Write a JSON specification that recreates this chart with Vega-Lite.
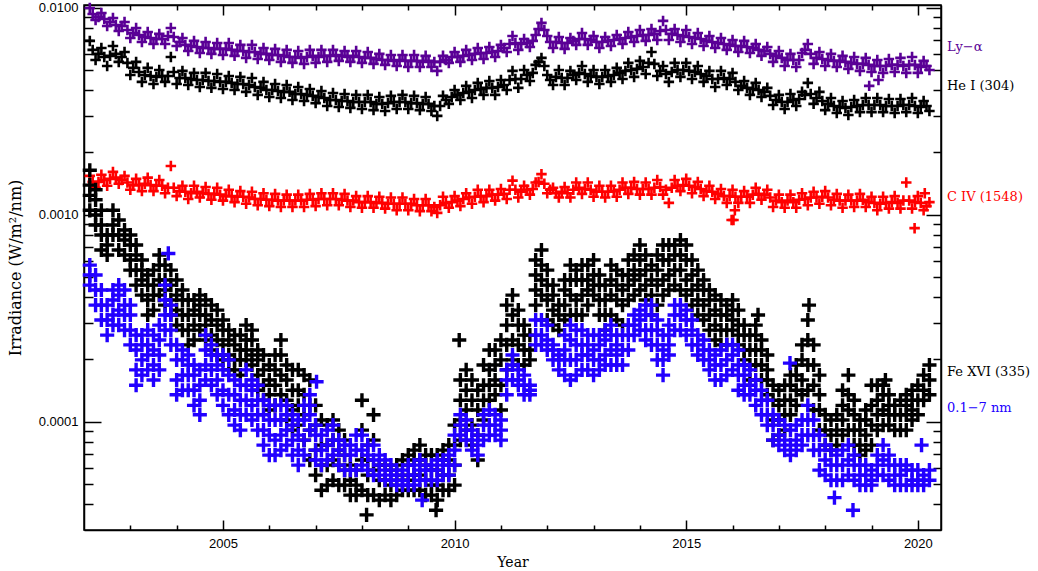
{
"$schema":"https://vega.github.io/schema/vega-lite/v6.json",
"width":857,"height":525,
"autosize":{"type":"none"},
"padding":{"left":84,"top":5,"right":97,"bottom":41},
"background":"white",
"config":{
"view":{"stroke":"#000","strokeWidth":1.5},
"axis":{"domainColor":"#000","domainWidth":1.5,"tickColor":"#000","tickWidth":1.5,"labelColor":"#000","labelFont":"Liberation Sans","labelFontSize":13,"titleFont":"DejaVu Serif","titleFontWeight":"normal","titleColor":"#000","grid":false,"labelOverlap":false,"labelFlush":false}
},
"datasets":{
"ly":[{"t":2002.125,"v":0.00997},{"t":2002.25,"v":0.00872},{"t":2002.375,"v":0.00943},{"t":2002.5,"v":0.00816},{"t":2002.625,"v":0.00892},{"t":2002.75,"v":0.00772},{"t":2002.875,"v":0.00853},{"t":2003,"v":0.00714},{"t":2003.125,"v":0.00798},{"t":2003.25,"v":0.00683},{"t":2003.375,"v":0.00763},{"t":2003.5,"v":0.00668},{"t":2003.625,"v":0.00747},{"t":2003.75,"v":0.00668},{"t":2003.875,"v":0.00798},{"t":2004,"v":0.00653},{"t":2004.125,"v":0.00714},{"t":2004.25,"v":0.00618},{"t":2004.375,"v":0.00691},{"t":2004.5,"v":0.00604},{"t":2004.625,"v":0.00683},{"t":2004.75,"v":0.00598},{"t":2004.875,"v":0.00675},{"t":2005,"v":0.00591},{"t":2005.125,"v":0.00675},{"t":2005.25,"v":0.00585},{"t":2005.375,"v":0.00661},{"t":2005.5,"v":0.00572},{"t":2005.625,"v":0.00661},{"t":2005.75,"v":0.00565},{"t":2005.875,"v":0.00639},{"t":2006,"v":0.00559},{"t":2006.125,"v":0.00632},{"t":2006.25,"v":0.00547},{"t":2006.375,"v":0.00625},{"t":2006.5,"v":0.00541},{"t":2006.625,"v":0.00618},{"t":2006.75,"v":0.00535},{"t":2006.875,"v":0.00625},{"t":2007,"v":0.00541},{"t":2007.125,"v":0.00625},{"t":2007.25,"v":0.00547},{"t":2007.375,"v":0.00625},{"t":2007.5,"v":0.00553},{"t":2007.625,"v":0.00618},{"t":2007.75,"v":0.00547},{"t":2007.875,"v":0.00618},{"t":2008,"v":0.00541},{"t":2008.125,"v":0.00611},{"t":2008.25,"v":0.00535},{"t":2008.375,"v":0.00598},{"t":2008.5,"v":0.00529},{"t":2008.625,"v":0.00591},{"t":2008.75,"v":0.00523},{"t":2008.875,"v":0.00591},{"t":2009,"v":0.00517},{"t":2009.125,"v":0.00591},{"t":2009.25,"v":0.00517},{"t":2009.375,"v":0.00585},{"t":2009.5,"v":0.00517},{"t":2009.625,"v":0.00495},{"t":2009.75,"v":0.00585},{"t":2009.875,"v":0.00541},{"t":2010,"v":0.00611},{"t":2010.125,"v":0.00547},{"t":2010.25,"v":0.00625},{"t":2010.375,"v":0.00559},{"t":2010.5,"v":0.00639},{"t":2010.625,"v":0.00565},{"t":2010.75,"v":0.00646},{"t":2010.875,"v":0.00578},{"t":2011,"v":0.00661},{"t":2011.125,"v":0.00611},{"t":2011.25,"v":0.0073},{"t":2011.375,"v":0.00625},{"t":2011.5,"v":0.00706},{"t":2011.625,"v":0.00646},{"t":2011.75,"v":0.00738},{"t":2011.875,"v":0.00844},{"t":2012,"v":0.0073},{"t":2012.125,"v":0.00639},{"t":2012.25,"v":0.00722},{"t":2012.375,"v":0.00632},{"t":2012.5,"v":0.00714},{"t":2012.625,"v":0.00661},{"t":2012.75,"v":0.00755},{"t":2012.875,"v":0.00661},{"t":2013,"v":0.0073},{"t":2013.125,"v":0.00639},{"t":2013.25,"v":0.00722},{"t":2013.375,"v":0.00653},{"t":2013.5,"v":0.00738},{"t":2013.625,"v":0.00668},{"t":2013.75,"v":0.00763},{"t":2013.875,"v":0.00683},{"t":2014,"v":0.0078},{"t":2014.125,"v":0.00691},{"t":2014.25,"v":0.00789},{"t":2014.375,"v":0.00698},{"t":2014.5,"v":0.00863},{"t":2014.625,"v":0.00698},{"t":2014.75,"v":0.00789},{"t":2014.875,"v":0.00683},{"t":2015,"v":0.0078},{"t":2015.125,"v":0.00668},{"t":2015.25,"v":0.00755},{"t":2015.375,"v":0.00653},{"t":2015.5,"v":0.0073},{"t":2015.625,"v":0.00639},{"t":2015.75,"v":0.00714},{"t":2015.875,"v":0.00625},{"t":2016,"v":0.00698},{"t":2016.125,"v":0.00611},{"t":2016.25,"v":0.00691},{"t":2016.375,"v":0.00604},{"t":2016.5,"v":0.00668},{"t":2016.625,"v":0.00585},{"t":2016.75,"v":0.00646},{"t":2016.875,"v":0.00547},{"t":2017,"v":0.00618},{"t":2017.125,"v":0.00523},{"t":2017.25,"v":0.00598},{"t":2017.375,"v":0.00517},{"t":2017.5,"v":0.00604},{"t":2017.625,"v":0.00668},{"t":2017.75,"v":0.00535},{"t":2017.875,"v":0.00611},{"t":2018,"v":0.00523},{"t":2018.125,"v":0.00598},{"t":2018.25,"v":0.00517},{"t":2018.375,"v":0.00585},{"t":2018.5,"v":0.00506},{"t":2018.625,"v":0.00578},{"t":2018.75,"v":0.00495},{"t":2018.875,"v":0.00572},{"t":2019,"v":0.00489},{"t":2019.125,"v":0.00559},{"t":2019.25,"v":0.00484},{"t":2019.375,"v":0.00565},{"t":2019.5,"v":0.00489},{"t":2019.625,"v":0.00572},{"t":2019.75,"v":0.00484},{"t":2019.875,"v":0.00578},{"t":2020,"v":0.00484},{"t":2020.125,"v":0.00553},{"t":2020.25,"v":0.005},{"t":2018.95,"v":0.00419},{"t":2019.15,"v":0.00447},
{"t":2002.1875,"v":0.00932},{"t":2002.3125,"v":0.00902},{"t":2002.4375,"v":0.00882},{"t":2002.5625,"v":0.00853},{"t":2002.6875,"v":0.00825},{"t":2002.8125,"v":0.00816},{"t":2002.9375,"v":0.0078},{"t":2003.0625,"v":0.00755},{"t":2003.1875,"v":0.00738},{"t":2003.3125,"v":0.00722},{"t":2003.4375,"v":0.00714},{"t":2003.5625,"v":0.00706},{"t":2003.6875,"v":0.00706},{"t":2003.8125,"v":0.0073},{"t":2003.9375,"v":0.00722},{"t":2004.0625,"v":0.00683},{"t":2004.1875,"v":0.00661},{"t":2004.3125,"v":0.00653},{"t":2004.4375,"v":0.00646},{"t":2004.5625,"v":0.00639},{"t":2004.6875,"v":0.00639},{"t":2004.8125,"v":0.00632},{"t":2004.9375,"v":0.00632},{"t":2005.0625,"v":0.00632},{"t":2005.1875,"v":0.00625},{"t":2005.3125,"v":0.00618},{"t":2005.4375,"v":0.00618},{"t":2005.5625,"v":0.00611},{"t":2005.6875,"v":0.00611},{"t":2005.8125,"v":0.00598},{"t":2005.9375,"v":0.00598},{"t":2006.0625,"v":0.00591},{"t":2006.1875,"v":0.00591},{"t":2006.3125,"v":0.00585},{"t":2006.4375,"v":0.00578},{"t":2006.5625,"v":0.00578},{"t":2006.6875,"v":0.00572},{"t":2006.8125,"v":0.00578},{"t":2006.9375,"v":0.00585},{"t":2007.0625,"v":0.00578},{"t":2007.1875,"v":0.00585},{"t":2007.3125,"v":0.00585},{"t":2007.4375,"v":0.00591},{"t":2007.5625,"v":0.00585},{"t":2007.6875,"v":0.00578},{"t":2007.8125,"v":0.00585},{"t":2007.9375,"v":0.00578},{"t":2008.0625,"v":0.00572},{"t":2008.1875,"v":0.00572},{"t":2008.3125,"v":0.00565},{"t":2008.4375,"v":0.00559},{"t":2008.5625,"v":0.00559},{"t":2008.6875,"v":0.00553},{"t":2008.8125,"v":0.00559},{"t":2008.9375,"v":0.00553},{"t":2009.0625,"v":0.00553},{"t":2009.1875,"v":0.00553},{"t":2009.3125,"v":0.00547},{"t":2009.4375,"v":0.00553},{"t":2009.5625,"v":0.00547},{"t":2009.6875,"v":0.00547},{"t":2009.8125,"v":0.00559},{"t":2009.9375,"v":0.00578},{"t":2010.0625,"v":0.00578},{"t":2010.1875,"v":0.00585},{"t":2010.3125,"v":0.00591},{"t":2010.4375,"v":0.00598},{"t":2010.5625,"v":0.00604},{"t":2010.6875,"v":0.00604},{"t":2010.8125,"v":0.00611},{"t":2010.9375,"v":0.00618},{"t":2011.0625,"v":0.00639},{"t":2011.1875,"v":0.00668},{"t":2011.3125,"v":0.00675},{"t":2011.4375,"v":0.00668},{"t":2011.5625,"v":0.00675},{"t":2011.6875,"v":0.00691},{"t":2011.8125,"v":0.00789},{"t":2011.9375,"v":0.0078},{"t":2012.0625,"v":0.00683},{"t":2012.1875,"v":0.00683},{"t":2012.3125,"v":0.00675},{"t":2012.4375,"v":0.00675},{"t":2012.5625,"v":0.00691},{"t":2012.6875,"v":0.00706},{"t":2012.8125,"v":0.00706},{"t":2012.9375,"v":0.00698},{"t":2013.0625,"v":0.00683},{"t":2013.1875,"v":0.00683},{"t":2013.3125,"v":0.00691},{"t":2013.4375,"v":0.00698},{"t":2013.5625,"v":0.00706},{"t":2013.6875,"v":0.00714},{"t":2013.8125,"v":0.00722},{"t":2013.9375,"v":0.0073},{"t":2014.0625,"v":0.00738},{"t":2014.1875,"v":0.00738},{"t":2014.3125,"v":0.00747},{"t":2014.4375,"v":0.00772},{"t":2014.5625,"v":0.0078},{"t":2014.6875,"v":0.00747},{"t":2014.8125,"v":0.00738},{"t":2014.9375,"v":0.0073},{"t":2015.0625,"v":0.00722},{"t":2015.1875,"v":0.00714},{"t":2015.3125,"v":0.00706},{"t":2015.4375,"v":0.00691},{"t":2015.5625,"v":0.00683},{"t":2015.6875,"v":0.00675},{"t":2015.8125,"v":0.00668},{"t":2015.9375,"v":0.00661},{"t":2016.0625,"v":0.00653},{"t":2016.1875,"v":0.00653},{"t":2016.3125,"v":0.00646},{"t":2016.4375,"v":0.00639},{"t":2016.5625,"v":0.00625},{"t":2016.6875,"v":0.00618},{"t":2016.8125,"v":0.00598},{"t":2016.9375,"v":0.00585},{"t":2017.0625,"v":0.00572},{"t":2017.1875,"v":0.00559},{"t":2017.3125,"v":0.00559},{"t":2017.4375,"v":0.00559},{"t":2017.5625,"v":0.00625},{"t":2017.6875,"v":0.00598},{"t":2017.8125,"v":0.00572},{"t":2017.9375,"v":0.00565},{"t":2018.0625,"v":0.00559},{"t":2018.1875,"v":0.00553},{"t":2018.3125,"v":0.00553},{"t":2018.4375,"v":0.00547},{"t":2018.5625,"v":0.00541},{"t":2018.6875,"v":0.00535},{"t":2018.8125,"v":0.00535},{"t":2018.9375,"v":0.00529},{"t":2019.0625,"v":0.00523},{"t":2019.1875,"v":0.00523},{"t":2019.3125,"v":0.00523},{"t":2019.4375,"v":0.00529},{"t":2019.5625,"v":0.00529},{"t":2019.6875,"v":0.00523},{"t":2019.8125,"v":0.00529},{"t":2019.9375,"v":0.00529},{"t":2020.0625,"v":0.00517},{"t":2020.1875,"v":0.00523}],
"he":[{"t":2002.125,"v":0.00691},{"t":2002.25,"v":0.00559},{"t":2002.375,"v":0.00639},{"t":2002.5,"v":0.00523},{"t":2002.625,"v":0.00653},{"t":2002.75,"v":0.00547},{"t":2002.875,"v":0.00611},{"t":2003,"v":0.00473},{"t":2003.125,"v":0.00547},{"t":2003.25,"v":0.00438},{"t":2003.375,"v":0.00512},{"t":2003.5,"v":0.00428},{"t":2003.625,"v":0.005},{"t":2003.75,"v":0.00438},{"t":2003.875,"v":0.00578},{"t":2004,"v":0.00428},{"t":2004.125,"v":0.00495},{"t":2004.25,"v":0.00423},{"t":2004.375,"v":0.00484},{"t":2004.5,"v":0.00414},{"t":2004.625,"v":0.00484},{"t":2004.75,"v":0.0041},{"t":2004.875,"v":0.00478},{"t":2005,"v":0.00405},{"t":2005.125,"v":0.00468},{"t":2005.25,"v":0.004},{"t":2005.375,"v":0.00463},{"t":2005.5,"v":0.00392},{"t":2005.625,"v":0.00457},{"t":2005.75,"v":0.00379},{"t":2005.875,"v":0.00438},{"t":2006,"v":0.0037},{"t":2006.125,"v":0.00428},{"t":2006.25,"v":0.00366},{"t":2006.375,"v":0.00423},{"t":2006.5,"v":0.00358},{"t":2006.625,"v":0.00414},{"t":2006.75,"v":0.00354},{"t":2006.875,"v":0.00405},{"t":2007,"v":0.00346},{"t":2007.125,"v":0.00396},{"t":2007.25,"v":0.00335},{"t":2007.375,"v":0.00387},{"t":2007.5,"v":0.00331},{"t":2007.625,"v":0.00383},{"t":2007.75,"v":0.00328},{"t":2007.875,"v":0.00379},{"t":2008,"v":0.00324},{"t":2008.125,"v":0.00379},{"t":2008.25,"v":0.0032},{"t":2008.375,"v":0.0037},{"t":2008.5,"v":0.00317},{"t":2008.625,"v":0.00375},{"t":2008.75,"v":0.00324},{"t":2008.875,"v":0.00379},{"t":2009,"v":0.00324},{"t":2009.125,"v":0.00375},{"t":2009.25,"v":0.0032},{"t":2009.375,"v":0.0037},{"t":2009.5,"v":0.00317},{"t":2009.625,"v":0.003},{"t":2009.75,"v":0.00375},{"t":2009.875,"v":0.00343},{"t":2010,"v":0.004},{"t":2010.125,"v":0.00358},{"t":2010.25,"v":0.00419},{"t":2010.375,"v":0.00366},{"t":2010.5,"v":0.00433},{"t":2010.625,"v":0.00379},{"t":2010.75,"v":0.00442},{"t":2010.875,"v":0.00379},{"t":2011,"v":0.00447},{"t":2011.125,"v":0.004},{"t":2011.25,"v":0.00495},{"t":2011.375,"v":0.0041},{"t":2011.5,"v":0.005},{"t":2011.625,"v":0.00442},{"t":2011.75,"v":0.00529},{"t":2011.875,"v":0.00572},{"t":2012,"v":0.00473},{"t":2012.125,"v":0.00423},{"t":2012.25,"v":0.005},{"t":2012.375,"v":0.00423},{"t":2012.5,"v":0.00495},{"t":2012.625,"v":0.00447},{"t":2012.75,"v":0.00523},{"t":2012.875,"v":0.00438},{"t":2013,"v":0.005},{"t":2013.125,"v":0.00428},{"t":2013.25,"v":0.005},{"t":2013.375,"v":0.00438},{"t":2013.5,"v":0.00512},{"t":2013.625,"v":0.00452},{"t":2013.75,"v":0.00541},{"t":2013.875,"v":0.00463},{"t":2014,"v":0.00553},{"t":2014.125,"v":0.00478},{"t":2014.25,"v":0.00611},{"t":2014.375,"v":0.00468},{"t":2014.5,"v":0.00523},{"t":2014.625,"v":0.00438},{"t":2014.75,"v":0.00541},{"t":2014.875,"v":0.00463},{"t":2015,"v":0.00541},{"t":2015.125,"v":0.00452},{"t":2015.25,"v":0.00523},{"t":2015.375,"v":0.00438},{"t":2015.5,"v":0.00495},{"t":2015.625,"v":0.00414},{"t":2015.75,"v":0.00495},{"t":2015.875,"v":0.00423},{"t":2016,"v":0.00484},{"t":2016.125,"v":0.004},{"t":2016.25,"v":0.00442},{"t":2016.375,"v":0.00379},{"t":2016.5,"v":0.00433},{"t":2016.625,"v":0.0037},{"t":2016.75,"v":0.0041},{"t":2016.875,"v":0.00339},{"t":2017,"v":0.00379},{"t":2017.125,"v":0.00324},{"t":2017.25,"v":0.00383},{"t":2017.375,"v":0.00335},{"t":2017.5,"v":0.00392},{"t":2017.625,"v":0.00433},{"t":2017.75,"v":0.00343},{"t":2017.875,"v":0.00392},{"t":2018,"v":0.0032},{"t":2018.125,"v":0.00366},{"t":2018.25,"v":0.0031},{"t":2018.375,"v":0.00354},{"t":2018.5,"v":0.00303},{"t":2018.625,"v":0.00358},{"t":2018.75,"v":0.00313},{"t":2018.875,"v":0.00366},{"t":2019,"v":0.00313},{"t":2019.125,"v":0.00366},{"t":2019.25,"v":0.00313},{"t":2019.375,"v":0.00362},{"t":2019.5,"v":0.0031},{"t":2019.625,"v":0.00362},{"t":2019.75,"v":0.00313},{"t":2019.875,"v":0.00366},{"t":2020,"v":0.0031},{"t":2020.125,"v":0.00354},{"t":2020.25,"v":0.00317},
{"t":2002.1875,"v":0.00625},{"t":2002.3125,"v":0.00598},{"t":2002.4375,"v":0.00578},{"t":2002.5625,"v":0.00585},{"t":2002.6875,"v":0.00598},{"t":2002.8125,"v":0.00578},{"t":2002.9375,"v":0.00541},{"t":2003.0625,"v":0.00512},{"t":2003.1875,"v":0.00489},{"t":2003.3125,"v":0.00473},{"t":2003.4375,"v":0.00468},{"t":2003.5625,"v":0.00463},{"t":2003.6875,"v":0.00468},{"t":2003.8125,"v":0.00468},{"t":2003.9375,"v":0.00489},{"t":2004.0625,"v":0.00457},{"t":2004.1875,"v":0.00457},{"t":2004.3125,"v":0.00452},{"t":2004.4375,"v":0.00447},{"t":2004.5625,"v":0.00447},{"t":2004.6875,"v":0.00442},{"t":2004.8125,"v":0.00442},{"t":2004.9375,"v":0.00438},{"t":2005.0625,"v":0.00438},{"t":2005.1875,"v":0.00433},{"t":2005.3125,"v":0.00428},{"t":2005.4375,"v":0.00428},{"t":2005.5625,"v":0.00423},{"t":2005.6875,"v":0.00414},{"t":2005.8125,"v":0.0041},{"t":2005.9375,"v":0.004},{"t":2006.0625,"v":0.004},{"t":2006.1875,"v":0.00396},{"t":2006.3125,"v":0.00392},{"t":2006.4375,"v":0.00392},{"t":2006.5625,"v":0.00383},{"t":2006.6875,"v":0.00383},{"t":2006.8125,"v":0.00379},{"t":2006.9375,"v":0.00375},{"t":2007.0625,"v":0.0037},{"t":2007.1875,"v":0.00366},{"t":2007.3125,"v":0.00358},{"t":2007.4375,"v":0.00358},{"t":2007.5625,"v":0.00354},{"t":2007.6875,"v":0.00354},{"t":2007.8125,"v":0.0035},{"t":2007.9375,"v":0.0035},{"t":2008.0625,"v":0.0035},{"t":2008.1875,"v":0.0035},{"t":2008.3125,"v":0.00343},{"t":2008.4375,"v":0.00343},{"t":2008.5625,"v":0.00346},{"t":2008.6875,"v":0.0035},{"t":2008.8125,"v":0.0035},{"t":2008.9375,"v":0.0035},{"t":2009.0625,"v":0.00346},{"t":2009.1875,"v":0.00346},{"t":2009.3125,"v":0.00343},{"t":2009.4375,"v":0.00343},{"t":2009.5625,"v":0.00335},{"t":2009.6875,"v":0.00335},{"t":2009.8125,"v":0.00358},{"t":2009.9375,"v":0.0037},{"t":2010.0625,"v":0.00379},{"t":2010.1875,"v":0.00387},{"t":2010.3125,"v":0.00392},{"t":2010.4375,"v":0.004},{"t":2010.5625,"v":0.00405},{"t":2010.6875,"v":0.0041},{"t":2010.8125,"v":0.0041},{"t":2010.9375,"v":0.00414},{"t":2011.0625,"v":0.00423},{"t":2011.1875,"v":0.00447},{"t":2011.3125,"v":0.00452},{"t":2011.4375,"v":0.00452},{"t":2011.5625,"v":0.00473},{"t":2011.6875,"v":0.00484},{"t":2011.8125,"v":0.00547},{"t":2011.9375,"v":0.00523},{"t":2012.0625,"v":0.00447},{"t":2012.1875,"v":0.00463},{"t":2012.3125,"v":0.00457},{"t":2012.4375,"v":0.00457},{"t":2012.5625,"v":0.00473},{"t":2012.6875,"v":0.00484},{"t":2012.8125,"v":0.00478},{"t":2012.9375,"v":0.00468},{"t":2013.0625,"v":0.00463},{"t":2013.1875,"v":0.00463},{"t":2013.3125,"v":0.00468},{"t":2013.4375,"v":0.00473},{"t":2013.5625,"v":0.00484},{"t":2013.6875,"v":0.00495},{"t":2013.8125,"v":0.005},{"t":2013.9375,"v":0.00506},{"t":2014.0625,"v":0.00517},{"t":2014.1875,"v":0.00541},{"t":2014.3125,"v":0.00535},{"t":2014.4375,"v":0.00495},{"t":2014.5625,"v":0.00478},{"t":2014.6875,"v":0.00489},{"t":2014.8125,"v":0.005},{"t":2014.9375,"v":0.005},{"t":2015.0625,"v":0.00495},{"t":2015.1875,"v":0.00489},{"t":2015.3125,"v":0.00478},{"t":2015.4375,"v":0.00468},{"t":2015.5625,"v":0.00452},{"t":2015.6875,"v":0.00452},{"t":2015.8125,"v":0.00457},{"t":2015.9375,"v":0.00452},{"t":2016.0625,"v":0.00438},{"t":2016.1875,"v":0.00419},{"t":2016.3125,"v":0.0041},{"t":2016.4375,"v":0.00405},{"t":2016.5625,"v":0.004},{"t":2016.6875,"v":0.00392},{"t":2016.8125,"v":0.00375},{"t":2016.9375,"v":0.00358},{"t":2017.0625,"v":0.0035},{"t":2017.1875,"v":0.0035},{"t":2017.3125,"v":0.00358},{"t":2017.4375,"v":0.00362},{"t":2017.5625,"v":0.00379},{"t":2017.6875,"v":0.00383},{"t":2017.8125,"v":0.00366},{"t":2017.9375,"v":0.00354},{"t":2018.0625,"v":0.00343},{"t":2018.1875,"v":0.00335},{"t":2018.3125,"v":0.00331},{"t":2018.4375,"v":0.00328},{"t":2018.5625,"v":0.00331},{"t":2018.6875,"v":0.00335},{"t":2018.8125,"v":0.00339},{"t":2018.9375,"v":0.00339},{"t":2019.0625,"v":0.00339},{"t":2019.1875,"v":0.00339},{"t":2019.3125,"v":0.00335},{"t":2019.4375,"v":0.00335},{"t":2019.5625,"v":0.00335},{"t":2019.6875,"v":0.00339},{"t":2019.8125,"v":0.00339},{"t":2019.9375,"v":0.00335},{"t":2020.0625,"v":0.00331},{"t":2020.1875,"v":0.00335}],
"c4":[{"t":2002.125,"v":0.00154},{"t":2002.25,"v":0.00135},{"t":2002.375,"v":0.00156},{"t":2002.5,"v":0.00138},{"t":2002.625,"v":0.00161},{"t":2002.75,"v":0.00141},{"t":2002.875,"v":0.00154},{"t":2003,"v":0.00132},{"t":2003.125,"v":0.00149},{"t":2003.25,"v":0.0013},{"t":2003.375,"v":0.00151},{"t":2003.5,"v":0.0013},{"t":2003.625,"v":0.00147},{"t":2003.75,"v":0.00127},{"t":2003.875,"v":0.00172},{"t":2004,"v":0.00123},{"t":2004.125,"v":0.00138},{"t":2004.25,"v":0.00119},{"t":2004.375,"v":0.00138},{"t":2004.5,"v":0.00121},{"t":2004.625,"v":0.00136},{"t":2004.75,"v":0.00118},{"t":2004.875,"v":0.00135},{"t":2005,"v":0.00117},{"t":2005.125,"v":0.00132},{"t":2005.25,"v":0.00115},{"t":2005.375,"v":0.0013},{"t":2005.5,"v":0.00113},{"t":2005.625,"v":0.00129},{"t":2005.75,"v":0.00111},{"t":2005.875,"v":0.00127},{"t":2006,"v":0.0011},{"t":2006.125,"v":0.00126},{"t":2006.25,"v":0.00109},{"t":2006.375,"v":0.00125},{"t":2006.5,"v":0.00109},{"t":2006.625,"v":0.00125},{"t":2006.75,"v":0.00109},{"t":2006.875,"v":0.00126},{"t":2007,"v":0.0011},{"t":2007.125,"v":0.00127},{"t":2007.25,"v":0.00111},{"t":2007.375,"v":0.00127},{"t":2007.5,"v":0.00111},{"t":2007.625,"v":0.00126},{"t":2007.75,"v":0.00109},{"t":2007.875,"v":0.00123},{"t":2008,"v":0.00108},{"t":2008.125,"v":0.00123},{"t":2008.25,"v":0.00108},{"t":2008.375,"v":0.00122},{"t":2008.5,"v":0.00107},{"t":2008.625,"v":0.00121},{"t":2008.75,"v":0.00105},{"t":2008.875,"v":0.00121},{"t":2009,"v":0.00105},{"t":2009.125,"v":0.00119},{"t":2009.25,"v":0.00104},{"t":2009.375,"v":0.00119},{"t":2009.5,"v":0.00104},{"t":2009.625,"v":0.00102},{"t":2009.75,"v":0.00122},{"t":2009.875,"v":0.00108},{"t":2010,"v":0.00123},{"t":2010.125,"v":0.0011},{"t":2010.25,"v":0.00127},{"t":2010.375,"v":0.00113},{"t":2010.5,"v":0.00132},{"t":2010.625,"v":0.00115},{"t":2010.75,"v":0.00132},{"t":2010.875,"v":0.00117},{"t":2011,"v":0.00133},{"t":2011.125,"v":0.00119},{"t":2011.25,"v":0.00146},{"t":2011.375,"v":0.00121},{"t":2011.5,"v":0.00138},{"t":2011.625,"v":0.00125},{"t":2011.75,"v":0.00143},{"t":2011.875,"v":0.00157},{"t":2012,"v":0.00127},{"t":2012.125,"v":0.00135},{"t":2012.25,"v":0.00121},{"t":2012.375,"v":0.00136},{"t":2012.5,"v":0.00121},{"t":2012.625,"v":0.00143},{"t":2012.75,"v":0.00126},{"t":2012.875,"v":0.00143},{"t":2013,"v":0.00122},{"t":2013.125,"v":0.00138},{"t":2013.25,"v":0.00121},{"t":2013.375,"v":0.00138},{"t":2013.5,"v":0.00122},{"t":2013.625,"v":0.00143},{"t":2013.75,"v":0.00126},{"t":2013.875,"v":0.00144},{"t":2014,"v":0.00125},{"t":2014.125,"v":0.00143},{"t":2014.25,"v":0.00125},{"t":2014.375,"v":0.00147},{"t":2014.5,"v":0.00125},{"t":2014.625,"v":0.00114},{"t":2014.75,"v":0.00147},{"t":2014.875,"v":0.0013},{"t":2015,"v":0.00149},{"t":2015.125,"v":0.00127},{"t":2015.25,"v":0.00144},{"t":2015.375,"v":0.00123},{"t":2015.5,"v":0.00138},{"t":2015.625,"v":0.00119},{"t":2015.75,"v":0.00133},{"t":2015.875,"v":0.00114},{"t":2016,"v":0.00132},{"t":2016.125,"v":0.00114},{"t":2016.25,"v":0.0013},{"t":2016.375,"v":0.00114},{"t":2016.5,"v":0.00135},{"t":2016.625,"v":0.00118},{"t":2016.75,"v":0.00132},{"t":2016.875,"v":0.00109},{"t":2017,"v":0.00125},{"t":2017.125,"v":0.00108},{"t":2017.25,"v":0.00125},{"t":2017.375,"v":0.00108},{"t":2017.5,"v":0.00127},{"t":2017.625,"v":0.00111},{"t":2017.75,"v":0.00129},{"t":2017.875,"v":0.00113},{"t":2018,"v":0.0013},{"t":2018.125,"v":0.00111},{"t":2018.25,"v":0.00126},{"t":2018.375,"v":0.00108},{"t":2018.5,"v":0.00125},{"t":2018.625,"v":0.00109},{"t":2018.75,"v":0.00126},{"t":2018.875,"v":0.00109},{"t":2019,"v":0.00122},{"t":2019.125,"v":0.00105},{"t":2019.25,"v":0.00122},{"t":2019.375,"v":0.00107},{"t":2019.5,"v":0.00123},{"t":2019.625,"v":0.00107},{"t":2019.75,"v":0.00143},{"t":2019.875,"v":0.00107},{"t":2020,"v":0.00123},{"t":2020.125,"v":0.00105},{"t":2020.25,"v":0.00115},{"t":2015.98,"v":0.000943},{"t":2016.02,"v":0.000943},{"t":2016.05,"v":0.00105},{"t":2019.93,"v":0.000861},{"t":2020.15,"v":0.00127},
{"t":2002.1875,"v":0.00144},{"t":2002.3125,"v":0.00144},{"t":2002.4375,"v":0.00147},{"t":2002.5625,"v":0.00149},{"t":2002.6875,"v":0.00151},{"t":2002.8125,"v":0.00147},{"t":2002.9375,"v":0.00143},{"t":2003.0625,"v":0.00139},{"t":2003.1875,"v":0.00139},{"t":2003.3125,"v":0.00141},{"t":2003.4375,"v":0.00139},{"t":2003.5625,"v":0.00138},{"t":2003.6875,"v":0.00138},{"t":2003.8125,"v":0.00135},{"t":2003.9375,"v":0.00135},{"t":2004.0625,"v":0.0013},{"t":2004.1875,"v":0.00129},{"t":2004.3125,"v":0.00127},{"t":2004.4375,"v":0.00129},{"t":2004.5625,"v":0.00127},{"t":2004.6875,"v":0.00126},{"t":2004.8125,"v":0.00126},{"t":2004.9375,"v":0.00125},{"t":2005.0625,"v":0.00123},{"t":2005.1875,"v":0.00123},{"t":2005.3125,"v":0.00122},{"t":2005.4375,"v":0.00122},{"t":2005.5625,"v":0.00121},{"t":2005.6875,"v":0.00119},{"t":2005.8125,"v":0.00119},{"t":2005.9375,"v":0.00118},{"t":2006.0625,"v":0.00118},{"t":2006.1875,"v":0.00117},{"t":2006.3125,"v":0.00117},{"t":2006.4375,"v":0.00117},{"t":2006.5625,"v":0.00117},{"t":2006.6875,"v":0.00117},{"t":2006.8125,"v":0.00118},{"t":2006.9375,"v":0.00118},{"t":2007.0625,"v":0.00119},{"t":2007.1875,"v":0.00119},{"t":2007.3125,"v":0.00119},{"t":2007.4375,"v":0.00119},{"t":2007.5625,"v":0.00118},{"t":2007.6875,"v":0.00117},{"t":2007.8125,"v":0.00117},{"t":2007.9375,"v":0.00115},{"t":2008.0625,"v":0.00115},{"t":2008.1875,"v":0.00115},{"t":2008.3125,"v":0.00114},{"t":2008.4375,"v":0.00114},{"t":2008.5625,"v":0.00113},{"t":2008.6875,"v":0.00113},{"t":2008.8125,"v":0.00113},{"t":2008.9375,"v":0.00113},{"t":2009.0625,"v":0.00113},{"t":2009.1875,"v":0.00111},{"t":2009.3125,"v":0.00111},{"t":2009.4375,"v":0.00111},{"t":2009.5625,"v":0.00109},{"t":2009.6875,"v":0.00111},{"t":2009.8125,"v":0.00114},{"t":2009.9375,"v":0.00115},{"t":2010.0625,"v":0.00117},{"t":2010.1875,"v":0.00119},{"t":2010.3125,"v":0.00121},{"t":2010.4375,"v":0.00122},{"t":2010.5625,"v":0.00123},{"t":2010.6875,"v":0.00123},{"t":2010.8125,"v":0.00125},{"t":2010.9375,"v":0.00125},{"t":2011.0625,"v":0.00126},{"t":2011.1875,"v":0.00132},{"t":2011.3125,"v":0.00132},{"t":2011.4375,"v":0.00129},{"t":2011.5625,"v":0.00132},{"t":2011.6875,"v":0.00133},{"t":2011.8125,"v":0.00144},{"t":2011.9375,"v":0.00141},{"t":2012.0625,"v":0.00132},{"t":2012.1875,"v":0.00127},{"t":2012.3125,"v":0.00129},{"t":2012.4375,"v":0.00127},{"t":2012.5625,"v":0.00132},{"t":2012.6875,"v":0.00135},{"t":2012.8125,"v":0.00133},{"t":2012.9375,"v":0.00132},{"t":2013.0625,"v":0.00129},{"t":2013.1875,"v":0.00129},{"t":2013.3125,"v":0.00129},{"t":2013.4375,"v":0.0013},{"t":2013.5625,"v":0.00132},{"t":2013.6875,"v":0.00135},{"t":2013.8125,"v":0.00135},{"t":2013.9375,"v":0.00133},{"t":2014.0625,"v":0.00133},{"t":2014.1875,"v":0.00133},{"t":2014.3125,"v":0.00135},{"t":2014.4375,"v":0.00136},{"t":2014.5625,"v":0.00132},{"t":2014.6875,"v":0.00135},{"t":2014.8125,"v":0.00138},{"t":2014.9375,"v":0.00139},{"t":2015.0625,"v":0.00138},{"t":2015.1875,"v":0.00136},{"t":2015.3125,"v":0.00133},{"t":2015.4375,"v":0.0013},{"t":2015.5625,"v":0.00129},{"t":2015.6875,"v":0.00126},{"t":2015.8125,"v":0.00123},{"t":2015.9375,"v":0.00123},{"t":2016.0625,"v":0.00122},{"t":2016.1875,"v":0.00122},{"t":2016.3125,"v":0.00122},{"t":2016.4375,"v":0.00125},{"t":2016.5625,"v":0.00126},{"t":2016.6875,"v":0.00125},{"t":2016.8125,"v":0.00121},{"t":2016.9375,"v":0.00117},{"t":2017.0625,"v":0.00115},{"t":2017.1875,"v":0.00117},{"t":2017.3125,"v":0.00115},{"t":2017.4375,"v":0.00118},{"t":2017.5625,"v":0.00119},{"t":2017.6875,"v":0.00121},{"t":2017.8125,"v":0.00121},{"t":2017.9375,"v":0.00122},{"t":2018.0625,"v":0.00121},{"t":2018.1875,"v":0.00118},{"t":2018.3125,"v":0.00117},{"t":2018.4375,"v":0.00117},{"t":2018.5625,"v":0.00117},{"t":2018.6875,"v":0.00117},{"t":2018.8125,"v":0.00118},{"t":2018.9375,"v":0.00115},{"t":2019.0625,"v":0.00114},{"t":2019.1875,"v":0.00113},{"t":2019.3125,"v":0.00114},{"t":2019.4375,"v":0.00115},{"t":2019.5625,"v":0.00114},{"t":2019.6875,"v":0.00117},{"t":2019.8125,"v":0.00117},{"t":2019.9375,"v":0.00115},{"t":2020.0625,"v":0.00114},{"t":2020.1875,"v":0.0011}],
"fe":[{"t":2002.125,"v":0.00164},{"t":2002.125,"v":0.00139},{"t":2002.125,"v":0.00124},{"t":2002.125,"v":0.00105},{"t":2002.25,"v":0.00132},{"t":2002.25,"v":0.00118},{"t":2002.25,"v":0.000997},{"t":2002.25,"v":0.000892},{"t":2002.375,"v":0.00105},{"t":2002.375,"v":0.000892},{"t":2002.375,"v":0.000798},{"t":2002.375,"v":0.000675},{"t":2002.5,"v":0.000798},{"t":2002.5,"v":0.000714},{"t":2002.5,"v":0.000639},{"t":2002.625,"v":0.00105},{"t":2002.625,"v":0.000892},{"t":2002.625,"v":0.000798},{"t":2002.75,"v":0.000943},{"t":2002.75,"v":0.000798},{"t":2002.75,"v":0.000675},{"t":2002.875,"v":0.000843},{"t":2002.875,"v":0.000755},{"t":2002.875,"v":0.000639},{"t":2003,"v":0.000798},{"t":2003,"v":0.000714},{"t":2003,"v":0.000604},{"t":2003,"v":0.00054},{"t":2003.125,"v":0.000714},{"t":2003.125,"v":0.000639},{"t":2003.125,"v":0.00054},{"t":2003.125,"v":0.000457},{"t":2003.25,"v":0.000604},{"t":2003.25,"v":0.00054},{"t":2003.25,"v":0.000484},{"t":2003.25,"v":0.000409},{"t":2003.375,"v":0.000511},{"t":2003.375,"v":0.000457},{"t":2003.375,"v":0.000387},{"t":2003.375,"v":0.000328},{"t":2003.5,"v":0.00054},{"t":2003.5,"v":0.000457},{"t":2003.5,"v":0.000409},{"t":2003.5,"v":0.000346},{"t":2003.625,"v":0.000639},{"t":2003.625,"v":0.000571},{"t":2003.625,"v":0.000484},{"t":2003.625,"v":0.000409},{"t":2003.75,"v":0.000571},{"t":2003.75,"v":0.000484},{"t":2003.75,"v":0.000433},{"t":2003.75,"v":0.000366},{"t":2003.875,"v":0.00054},{"t":2003.875,"v":0.000457},{"t":2003.875,"v":0.000387},{"t":2003.875,"v":0.000328},{"t":2004,"v":0.000484},{"t":2004,"v":0.000409},{"t":2004,"v":0.000346},{"t":2004,"v":0.000293},{"t":2004.125,"v":0.000433},{"t":2004.125,"v":0.000387},{"t":2004.125,"v":0.000328},{"t":2004.125,"v":0.000277},{"t":2004.25,"v":0.000387},{"t":2004.25,"v":0.000328},{"t":2004.25,"v":0.000277},{"t":2004.25,"v":0.000235},{"t":2004.375,"v":0.000387},{"t":2004.375,"v":0.000346},{"t":2004.375,"v":0.000293},{"t":2004.375,"v":0.000248},{"t":2004.5,"v":0.000409},{"t":2004.5,"v":0.000366},{"t":2004.5,"v":0.000328},{"t":2004.5,"v":0.000277},{"t":2004.625,"v":0.000387},{"t":2004.625,"v":0.000328},{"t":2004.625,"v":0.000293},{"t":2004.625,"v":0.000248},{"t":2004.75,"v":0.000366},{"t":2004.75,"v":0.00031},{"t":2004.75,"v":0.000262},{"t":2004.75,"v":0.000222},{"t":2004.875,"v":0.000346},{"t":2004.875,"v":0.000293},{"t":2004.875,"v":0.000248},{"t":2004.875,"v":0.00021},{"t":2005,"v":0.00031},{"t":2005,"v":0.000277},{"t":2005,"v":0.000235},{"t":2005,"v":0.000199},{"t":2005.125,"v":0.000277},{"t":2005.125,"v":0.000248},{"t":2005.125,"v":0.00021},{"t":2005.125,"v":0.000178},{"t":2005.25,"v":0.000262},{"t":2005.25,"v":0.000235},{"t":2005.25,"v":0.000199},{"t":2005.25,"v":0.000178},{"t":2005.375,"v":0.000262},{"t":2005.375,"v":0.000222},{"t":2005.375,"v":0.000199},{"t":2005.375,"v":0.000168},{"t":2005.5,"v":0.000293},{"t":2005.5,"v":0.000248},{"t":2005.5,"v":0.000222},{"t":2005.5,"v":0.000199},{"t":2005.625,"v":0.000277},{"t":2005.625,"v":0.000248},{"t":2005.625,"v":0.00021},{"t":2005.625,"v":0.000188},{"t":2005.75,"v":0.000222},{"t":2005.75,"v":0.000199},{"t":2005.75,"v":0.000168},{"t":2005.75,"v":0.000142},{"t":2005.875,"v":0.00021},{"t":2005.875,"v":0.000178},{"t":2005.875,"v":0.00015},{"t":2005.875,"v":0.000127},{"t":2006,"v":0.000188},{"t":2006,"v":0.000159},{"t":2006,"v":0.000135},{"t":2006,"v":0.000114},{"t":2006.125,"v":0.00021},{"t":2006.125,"v":0.000178},{"t":2006.125,"v":0.00015},{"t":2006.125,"v":0.00012},{"t":2006.25,"v":0.000248},{"t":2006.25,"v":0.00021},{"t":2006.25,"v":0.000168},{"t":2006.25,"v":0.000135},{"t":2006.375,"v":0.000188},{"t":2006.375,"v":0.000159},{"t":2006.375,"v":0.000127},{"t":2006.375,"v":0.000102},{"t":2006.5,"v":0.000178},{"t":2006.5,"v":0.000142},{"t":2006.5,"v":0.000114},{"t":2006.5,"v":0.0000911},{"t":2006.625,"v":0.000178},{"t":2006.625,"v":0.000142},{"t":2006.625,"v":0.00012},{"t":2006.625,"v":0.0000963},{"t":2006.75,"v":0.000168},{"t":2006.75,"v":0.000135},{"t":2006.75,"v":0.000108},{"t":2006.75,"v":0.0000815},{"t":2006.875,"v":0.000159},{"t":2006.875,"v":0.00012},{"t":2006.875,"v":0.0000911},{"t":2006.875,"v":0.0000653},{"t":2007,"v":0.00012},{"t":2007,"v":0.0000963},{"t":2007,"v":0.0000729},{"t":2007,"v":0.0000552},{"t":2007.125,"v":0.000102},{"t":2007.125,"v":0.0000771},{"t":2007.125,"v":0.0000617},{"t":2007.125,"v":0.0000467},{"t":2007.25,"v":0.0000963},{"t":2007.25,"v":0.0000771},{"t":2007.25,"v":0.0000617},{"t":2007.25,"v":0.0000494},{"t":2007.375,"v":0.000102},{"t":2007.375,"v":0.0000815},{"t":2007.375,"v":0.0000653},{"t":2007.375,"v":0.0000522},{"t":2007.5,"v":0.0000911},{"t":2007.5,"v":0.0000729},{"t":2007.5,"v":0.0000617},{"t":2007.5,"v":0.0000494},{"t":2007.625,"v":0.0000815},{"t":2007.625,"v":0.000069},{"t":2007.625,"v":0.0000584},{"t":2007.625,"v":0.0000494},{"t":2007.75,"v":0.0000617},{"t":2007.75,"v":0.0000522},{"t":2007.75,"v":0.0000442},{"t":2007.875,"v":0.0000584},{"t":2007.875,"v":0.0000494},{"t":2007.875,"v":0.0000442},{"t":2008,"v":0.000127},{"t":2008,"v":0.0000911},{"t":2008,"v":0.0000653},{"t":2008,"v":0.0000467},{"t":2008.125,"v":0.0000771},{"t":2008.125,"v":0.0000653},{"t":2008.125,"v":0.0000552},{"t":2008.125,"v":0.0000442},{"t":2008.25,"v":0.000108},{"t":2008.25,"v":0.0000815},{"t":2008.25,"v":0.0000584},{"t":2008.25,"v":0.0000442},{"t":2008.375,"v":0.0000617},{"t":2008.375,"v":0.0000522},{"t":2008.375,"v":0.0000418},{"t":2008.5,"v":0.0000617},{"t":2008.5,"v":0.0000522},{"t":2008.5,"v":0.0000442},{"t":2008.625,"v":0.0000584},{"t":2008.625,"v":0.0000494},{"t":2008.625,"v":0.0000418},{"t":2008.75,"v":0.0000617},{"t":2008.75,"v":0.0000522},{"t":2008.75,"v":0.0000442},{"t":2008.875,"v":0.0000653},{"t":2008.875,"v":0.0000552},{"t":2008.875,"v":0.0000467},{"t":2009,"v":0.000069},{"t":2009,"v":0.0000617},{"t":2009,"v":0.0000522},{"t":2009,"v":0.0000467},{"t":2009.125,"v":0.0000729},{"t":2009.125,"v":0.0000653},{"t":2009.125,"v":0.0000552},{"t":2009.125,"v":0.0000467},{"t":2009.25,"v":0.0000771},{"t":2009.25,"v":0.0000653},{"t":2009.25,"v":0.0000552},{"t":2009.25,"v":0.0000467},{"t":2009.375,"v":0.000069},{"t":2009.375,"v":0.0000617},{"t":2009.375,"v":0.0000522},{"t":2009.375,"v":0.0000442},{"t":2009.5,"v":0.000069},{"t":2009.5,"v":0.0000584},{"t":2009.5,"v":0.0000494},{"t":2009.5,"v":0.0000442},{"t":2009.625,"v":0.000069},{"t":2009.625,"v":0.0000584},{"t":2009.625,"v":0.0000494},{"t":2009.625,"v":0.0000418},{"t":2009.75,"v":0.0000729},{"t":2009.75,"v":0.0000653},{"t":2009.75,"v":0.0000552},{"t":2009.75,"v":0.0000467},{"t":2009.875,"v":0.0000771},{"t":2009.875,"v":0.0000653},{"t":2009.875,"v":0.0000552},{"t":2009.875,"v":0.0000467},{"t":2010,"v":0.0000963},{"t":2010,"v":0.0000771},{"t":2010,"v":0.0000617},{"t":2010,"v":0.0000494},{"t":2010.125,"v":0.000159},{"t":2010.125,"v":0.000127},{"t":2010.125,"v":0.000102},{"t":2010.125,"v":0.0000815},{"t":2010.25,"v":0.000178},{"t":2010.25,"v":0.000142},{"t":2010.25,"v":0.000114},{"t":2010.25,"v":0.0000911},{"t":2010.375,"v":0.000159},{"t":2010.375,"v":0.000127},{"t":2010.375,"v":0.0000963},{"t":2010.375,"v":0.0000771},{"t":2010.5,"v":0.000142},{"t":2010.5,"v":0.000114},{"t":2010.5,"v":0.0000862},{"t":2010.5,"v":0.0000653},{"t":2010.625,"v":0.000188},{"t":2010.625,"v":0.00015},{"t":2010.625,"v":0.000127},{"t":2010.625,"v":0.000102},{"t":2010.75,"v":0.000222},{"t":2010.75,"v":0.000178},{"t":2010.75,"v":0.00015},{"t":2010.75,"v":0.000127},{"t":2010.875,"v":0.000222},{"t":2010.875,"v":0.000188},{"t":2010.875,"v":0.000159},{"t":2010.875,"v":0.000135},{"t":2011,"v":0.000248},{"t":2011,"v":0.000199},{"t":2011,"v":0.00015},{"t":2011,"v":0.000114},{"t":2011.125,"v":0.000366},{"t":2011.125,"v":0.000293},{"t":2011.125,"v":0.000235},{"t":2011.125,"v":0.000178},{"t":2011.25,"v":0.000409},{"t":2011.25,"v":0.000328},{"t":2011.25,"v":0.000248},{"t":2011.25,"v":0.000199},{"t":2011.375,"v":0.000346},{"t":2011.375,"v":0.000293},{"t":2011.375,"v":0.000235},{"t":2011.375,"v":0.000188},{"t":2011.5,"v":0.000293},{"t":2011.5,"v":0.000262},{"t":2011.5,"v":0.000222},{"t":2011.5,"v":0.000188},{"t":2011.625,"v":0.000262},{"t":2011.625,"v":0.000222},{"t":2011.625,"v":0.000199},{"t":2011.75,"v":0.000604},{"t":2011.75,"v":0.000511},{"t":2011.75,"v":0.000433},{"t":2011.75,"v":0.000366},{"t":2011.875,"v":0.000675},{"t":2011.875,"v":0.000571},{"t":2011.875,"v":0.000484},{"t":2011.875,"v":0.000409},{"t":2012,"v":0.00054},{"t":2012,"v":0.000457},{"t":2012,"v":0.000387},{"t":2012,"v":0.00031},{"t":2012.125,"v":0.000457},{"t":2012.125,"v":0.000409},{"t":2012.125,"v":0.000346},{"t":2012.125,"v":0.000293},{"t":2012.25,"v":0.000366},{"t":2012.25,"v":0.000328},{"t":2012.25,"v":0.000277},{"t":2012.375,"v":0.000484},{"t":2012.375,"v":0.000433},{"t":2012.375,"v":0.000366},{"t":2012.375,"v":0.00031},{"t":2012.5,"v":0.000571},{"t":2012.5,"v":0.000484},{"t":2012.5,"v":0.000409},{"t":2012.5,"v":0.000328},{"t":2012.625,"v":0.00054},{"t":2012.625,"v":0.000484},{"t":2012.625,"v":0.000387},{"t":2012.625,"v":0.000328},{"t":2012.75,"v":0.000571},{"t":2012.75,"v":0.000484},{"t":2012.75,"v":0.000409},{"t":2012.75,"v":0.000328},{"t":2012.875,"v":0.000571},{"t":2012.875,"v":0.000484},{"t":2012.875,"v":0.000433},{"t":2012.875,"v":0.000366},{"t":2013,"v":0.000604},{"t":2013,"v":0.000511},{"t":2013,"v":0.000457},{"t":2013,"v":0.000409},{"t":2013.125,"v":0.000511},{"t":2013.125,"v":0.000457},{"t":2013.125,"v":0.000387},{"t":2013.125,"v":0.000328},{"t":2013.25,"v":0.000457},{"t":2013.25,"v":0.000387},{"t":2013.25,"v":0.000328},{"t":2013.25,"v":0.000277},{"t":2013.375,"v":0.000571},{"t":2013.375,"v":0.000484},{"t":2013.375,"v":0.000409},{"t":2013.375,"v":0.000328},{"t":2013.5,"v":0.00054},{"t":2013.5,"v":0.000457},{"t":2013.5,"v":0.000387},{"t":2013.5,"v":0.00031},{"t":2013.625,"v":0.000511},{"t":2013.625,"v":0.000433},{"t":2013.625,"v":0.000366},{"t":2013.625,"v":0.000293},{"t":2013.75,"v":0.000604},{"t":2013.75,"v":0.000511},{"t":2013.75,"v":0.000457},{"t":2013.75,"v":0.000387},{"t":2013.875,"v":0.000639},{"t":2013.875,"v":0.00054},{"t":2013.875,"v":0.000484},{"t":2013.875,"v":0.000409},{"t":2014,"v":0.000714},{"t":2014,"v":0.000604},{"t":2014,"v":0.000511},{"t":2014,"v":0.000433},{"t":2014.125,"v":0.000639},{"t":2014.125,"v":0.00054},{"t":2014.125,"v":0.000457},{"t":2014.125,"v":0.000387},{"t":2014.25,"v":0.000571},{"t":2014.25,"v":0.000484},{"t":2014.25,"v":0.000409},{"t":2014.25,"v":0.000328},{"t":2014.375,"v":0.000639},{"t":2014.375,"v":0.00054},{"t":2014.375,"v":0.000457},{"t":2014.375,"v":0.000366},{"t":2014.5,"v":0.000714},{"t":2014.5,"v":0.000604},{"t":2014.5,"v":0.000484},{"t":2014.5,"v":0.000409},{"t":2014.625,"v":0.000714},{"t":2014.625,"v":0.000604},{"t":2014.625,"v":0.000511},{"t":2014.625,"v":0.000433},{"t":2014.75,"v":0.000714},{"t":2014.75,"v":0.000639},{"t":2014.75,"v":0.00054},{"t":2014.75,"v":0.000457},{"t":2014.875,"v":0.000755},{"t":2014.875,"v":0.000639},{"t":2014.875,"v":0.00054},{"t":2014.875,"v":0.000433},{"t":2015,"v":0.000714},{"t":2015,"v":0.000604},{"t":2015,"v":0.000484},{"t":2015,"v":0.000409},{"t":2015.125,"v":0.000604},{"t":2015.125,"v":0.000511},{"t":2015.125,"v":0.000433},{"t":2015.125,"v":0.000366},{"t":2015.25,"v":0.00054},{"t":2015.25,"v":0.000457},{"t":2015.25,"v":0.000387},{"t":2015.25,"v":0.000328},{"t":2015.375,"v":0.000484},{"t":2015.375,"v":0.000433},{"t":2015.375,"v":0.000366},{"t":2015.375,"v":0.00031},{"t":2015.5,"v":0.000433},{"t":2015.5,"v":0.000387},{"t":2015.5,"v":0.000328},{"t":2015.5,"v":0.000277},{"t":2015.625,"v":0.000409},{"t":2015.625,"v":0.000346},{"t":2015.625,"v":0.000293},{"t":2015.625,"v":0.000248},{"t":2015.75,"v":0.000387},{"t":2015.75,"v":0.000328},{"t":2015.75,"v":0.000277},{"t":2015.75,"v":0.000235},{"t":2015.875,"v":0.000366},{"t":2015.875,"v":0.000328},{"t":2015.875,"v":0.000277},{"t":2015.875,"v":0.000235},{"t":2016,"v":0.000387},{"t":2016,"v":0.000346},{"t":2016,"v":0.00031},{"t":2016,"v":0.000277},{"t":2016.125,"v":0.000346},{"t":2016.125,"v":0.000293},{"t":2016.125,"v":0.000262},{"t":2016.125,"v":0.000235},{"t":2016.25,"v":0.000293},{"t":2016.25,"v":0.000262},{"t":2016.25,"v":0.000222},{"t":2016.25,"v":0.000199},{"t":2016.375,"v":0.000262},{"t":2016.375,"v":0.000222},{"t":2016.375,"v":0.000188},{"t":2016.375,"v":0.000159},{"t":2016.5,"v":0.000293},{"t":2016.5,"v":0.000262},{"t":2016.5,"v":0.000222},{"t":2016.5,"v":0.000188},{"t":2016.625,"v":0.000248},{"t":2016.625,"v":0.000222},{"t":2016.625,"v":0.000188},{"t":2016.625,"v":0.000159},{"t":2016.75,"v":0.00021},{"t":2016.75,"v":0.000178},{"t":2016.75,"v":0.000159},{"t":2016.75,"v":0.000135},{"t":2016.875,"v":0.00015},{"t":2016.875,"v":0.000127},{"t":2016.875,"v":0.000102},{"t":2016.875,"v":0.0000815},{"t":2017,"v":0.000142},{"t":2017,"v":0.00012},{"t":2017,"v":0.000102},{"t":2017,"v":0.0000862},{"t":2017.125,"v":0.00015},{"t":2017.125,"v":0.000127},{"t":2017.125,"v":0.000108},{"t":2017.125,"v":0.0000911},{"t":2017.25,"v":0.000168},{"t":2017.25,"v":0.00015},{"t":2017.25,"v":0.000127},{"t":2017.25,"v":0.000108},{"t":2017.375,"v":0.000188},{"t":2017.375,"v":0.000168},{"t":2017.375,"v":0.000142},{"t":2017.375,"v":0.00012},{"t":2017.5,"v":0.000235},{"t":2017.5,"v":0.000199},{"t":2017.5,"v":0.000159},{"t":2017.5,"v":0.000135},{"t":2017.625,"v":0.00031},{"t":2017.625,"v":0.000248},{"t":2017.625,"v":0.000188},{"t":2017.625,"v":0.000142},{"t":2017.75,"v":0.000235},{"t":2017.75,"v":0.000188},{"t":2017.75,"v":0.00015},{"t":2017.75,"v":0.000114},{"t":2017.875,"v":0.000168},{"t":2017.875,"v":0.000135},{"t":2017.875,"v":0.000114},{"t":2017.875,"v":0.0000911},{"t":2018,"v":0.000108},{"t":2018,"v":0.0000911},{"t":2018,"v":0.0000771},{"t":2018.125,"v":0.000102},{"t":2018.125,"v":0.0000862},{"t":2018.125,"v":0.0000729},{"t":2018.25,"v":0.000108},{"t":2018.25,"v":0.0000911},{"t":2018.25,"v":0.0000771},{"t":2018.375,"v":0.000142},{"t":2018.375,"v":0.00012},{"t":2018.375,"v":0.000102},{"t":2018.375,"v":0.0000862},{"t":2018.5,"v":0.000168},{"t":2018.5,"v":0.000135},{"t":2018.5,"v":0.000114},{"t":2018.5,"v":0.0000911},{"t":2018.625,"v":0.000127},{"t":2018.625,"v":0.000108},{"t":2018.625,"v":0.0000911},{"t":2018.625,"v":0.0000771},{"t":2018.75,"v":0.000102},{"t":2018.75,"v":0.0000911},{"t":2018.75,"v":0.0000771},{"t":2018.75,"v":0.000069},{"t":2018.875,"v":0.000114},{"t":2018.875,"v":0.000102},{"t":2018.875,"v":0.0000862},{"t":2018.875,"v":0.0000729},{"t":2019,"v":0.00015},{"t":2019,"v":0.00012},{"t":2019,"v":0.0000963},{"t":2019,"v":0.0000771},{"t":2019.125,"v":0.00015},{"t":2019.125,"v":0.000127},{"t":2019.125,"v":0.000108},{"t":2019.125,"v":0.0000911},{"t":2019.25,"v":0.00015},{"t":2019.25,"v":0.000135},{"t":2019.25,"v":0.000114},{"t":2019.25,"v":0.0000963},{"t":2019.375,"v":0.000135},{"t":2019.375,"v":0.00012},{"t":2019.375,"v":0.000108},{"t":2019.375,"v":0.0000963},{"t":2019.5,"v":0.00012},{"t":2019.5,"v":0.000108},{"t":2019.5,"v":0.0000911},{"t":2019.625,"v":0.000127},{"t":2019.625,"v":0.000108},{"t":2019.625,"v":0.0000911},{"t":2019.75,"v":0.000135},{"t":2019.75,"v":0.00012},{"t":2019.75,"v":0.000108},{"t":2019.75,"v":0.0000911},{"t":2019.875,"v":0.000142},{"t":2019.875,"v":0.000127},{"t":2019.875,"v":0.000114},{"t":2019.875,"v":0.000102},{"t":2020,"v":0.00015},{"t":2020,"v":0.000127},{"t":2020,"v":0.000108},{"t":2020.125,"v":0.000168},{"t":2020.125,"v":0.000142},{"t":2020.125,"v":0.000127},{"t":2020.25,"v":0.000188},{"t":2020.25,"v":0.000159},{"t":2020.25,"v":0.000135},{"t":2010.1,"v":0.000248},{"t":2016.55,"v":0.000328},{"t":2017.65,"v":0.000366},{"t":2019.3,"v":0.000159},{"t":2008.1,"v":0.0000355},{"t":2009.6,"v":0.0000374}],
"xr":[{"t":2002.125,"v":0.000571},{"t":2002.125,"v":0.000511},{"t":2002.125,"v":0.000457},{"t":2002.25,"v":0.000511},{"t":2002.25,"v":0.000433},{"t":2002.25,"v":0.000366},{"t":2002.375,"v":0.000433},{"t":2002.375,"v":0.000366},{"t":2002.375,"v":0.00031},{"t":2002.5,"v":0.000366},{"t":2002.5,"v":0.00031},{"t":2002.5,"v":0.000262},{"t":2002.625,"v":0.000433},{"t":2002.625,"v":0.000387},{"t":2002.625,"v":0.000328},{"t":2002.625,"v":0.000293},{"t":2002.75,"v":0.000457},{"t":2002.75,"v":0.000409},{"t":2002.75,"v":0.000346},{"t":2002.75,"v":0.000293},{"t":2002.875,"v":0.000433},{"t":2002.875,"v":0.000366},{"t":2002.875,"v":0.000328},{"t":2002.875,"v":0.000277},{"t":2003,"v":0.000366},{"t":2003,"v":0.000328},{"t":2003,"v":0.000277},{"t":2003,"v":0.000235},{"t":2003.125,"v":0.000262},{"t":2003.125,"v":0.000222},{"t":2003.125,"v":0.000178},{"t":2003.125,"v":0.00015},{"t":2003.25,"v":0.000262},{"t":2003.25,"v":0.000235},{"t":2003.25,"v":0.000199},{"t":2003.25,"v":0.000168},{"t":2003.375,"v":0.000277},{"t":2003.375,"v":0.000235},{"t":2003.375,"v":0.00021},{"t":2003.375,"v":0.000178},{"t":2003.5,"v":0.000262},{"t":2003.5,"v":0.000222},{"t":2003.5,"v":0.000188},{"t":2003.5,"v":0.000159},{"t":2003.625,"v":0.000293},{"t":2003.625,"v":0.000248},{"t":2003.625,"v":0.00021},{"t":2003.625,"v":0.000178},{"t":2003.75,"v":0.000457},{"t":2003.75,"v":0.000387},{"t":2003.75,"v":0.000328},{"t":2003.75,"v":0.000277},{"t":2003.875,"v":0.000366},{"t":2003.875,"v":0.000328},{"t":2003.875,"v":0.000277},{"t":2003.875,"v":0.000235},{"t":2004,"v":0.000235},{"t":2004,"v":0.000199},{"t":2004,"v":0.000159},{"t":2004,"v":0.000135},{"t":2004.125,"v":0.000222},{"t":2004.125,"v":0.000199},{"t":2004.125,"v":0.000168},{"t":2004.125,"v":0.000142},{"t":2004.25,"v":0.00021},{"t":2004.25,"v":0.000188},{"t":2004.25,"v":0.000168},{"t":2004.25,"v":0.000142},{"t":2004.375,"v":0.000188},{"t":2004.375,"v":0.000168},{"t":2004.375,"v":0.000142},{"t":2004.375,"v":0.00012},{"t":2004.5,"v":0.000178},{"t":2004.5,"v":0.00015},{"t":2004.5,"v":0.000127},{"t":2004.5,"v":0.000108},{"t":2004.625,"v":0.000262},{"t":2004.625,"v":0.000222},{"t":2004.625,"v":0.000188},{"t":2004.625,"v":0.000159},{"t":2004.75,"v":0.000235},{"t":2004.75,"v":0.00021},{"t":2004.75,"v":0.000178},{"t":2004.75,"v":0.00015},{"t":2004.875,"v":0.00021},{"t":2004.875,"v":0.000188},{"t":2004.875,"v":0.000159},{"t":2004.875,"v":0.000135},{"t":2005,"v":0.00021},{"t":2005,"v":0.000178},{"t":2005,"v":0.000142},{"t":2005,"v":0.00012},{"t":2005.125,"v":0.000199},{"t":2005.125,"v":0.000168},{"t":2005.125,"v":0.000135},{"t":2005.125,"v":0.000108},{"t":2005.25,"v":0.000159},{"t":2005.25,"v":0.000135},{"t":2005.25,"v":0.000114},{"t":2005.25,"v":0.0000963},{"t":2005.375,"v":0.00015},{"t":2005.375,"v":0.000127},{"t":2005.375,"v":0.000108},{"t":2005.375,"v":0.0000911},{"t":2005.5,"v":0.000178},{"t":2005.5,"v":0.00015},{"t":2005.5,"v":0.000127},{"t":2005.5,"v":0.000108},{"t":2005.625,"v":0.000159},{"t":2005.625,"v":0.000142},{"t":2005.625,"v":0.00012},{"t":2005.625,"v":0.000102},{"t":2005.75,"v":0.00015},{"t":2005.75,"v":0.000127},{"t":2005.75,"v":0.000108},{"t":2005.75,"v":0.0000911},{"t":2005.875,"v":0.000127},{"t":2005.875,"v":0.000108},{"t":2005.875,"v":0.0000911},{"t":2005.875,"v":0.0000771},{"t":2006,"v":0.00012},{"t":2006,"v":0.000102},{"t":2006,"v":0.0000862},{"t":2006,"v":0.000069},{"t":2006.125,"v":0.00012},{"t":2006.125,"v":0.000102},{"t":2006.125,"v":0.0000815},{"t":2006.125,"v":0.000069},{"t":2006.25,"v":0.00012},{"t":2006.25,"v":0.000102},{"t":2006.25,"v":0.0000862},{"t":2006.25,"v":0.0000729},{"t":2006.375,"v":0.00012},{"t":2006.375,"v":0.000108},{"t":2006.375,"v":0.0000911},{"t":2006.375,"v":0.0000771},{"t":2006.5,"v":0.000108},{"t":2006.5,"v":0.0000963},{"t":2006.5,"v":0.0000815},{"t":2006.5,"v":0.000069},{"t":2006.625,"v":0.000102},{"t":2006.625,"v":0.0000862},{"t":2006.625,"v":0.0000729},{"t":2006.625,"v":0.0000617},{"t":2006.75,"v":0.00012},{"t":2006.75,"v":0.000102},{"t":2006.75,"v":0.0000815},{"t":2006.75,"v":0.000069},{"t":2006.875,"v":0.000135},{"t":2006.875,"v":0.00012},{"t":2006.875,"v":0.000108},{"t":2006.875,"v":0.0000911},{"t":2007,"v":0.0000963},{"t":2007,"v":0.0000862},{"t":2007,"v":0.0000729},{"t":2007,"v":0.0000653},{"t":2007.125,"v":0.0000862},{"t":2007.125,"v":0.0000729},{"t":2007.125,"v":0.0000617},{"t":2007.25,"v":0.0000911},{"t":2007.25,"v":0.0000771},{"t":2007.25,"v":0.0000653},{"t":2007.375,"v":0.0000963},{"t":2007.375,"v":0.0000815},{"t":2007.375,"v":0.000069},{"t":2007.5,"v":0.0000815},{"t":2007.5,"v":0.0000729},{"t":2007.5,"v":0.0000617},{"t":2007.625,"v":0.0000771},{"t":2007.625,"v":0.000069},{"t":2007.625,"v":0.0000584},{"t":2007.75,"v":0.0000771},{"t":2007.75,"v":0.000069},{"t":2007.75,"v":0.0000584},{"t":2007.875,"v":0.0000862},{"t":2007.875,"v":0.0000729},{"t":2007.875,"v":0.0000584},{"t":2008,"v":0.0000862},{"t":2008,"v":0.0000729},{"t":2008,"v":0.0000617},{"t":2008.125,"v":0.0000771},{"t":2008.125,"v":0.000069},{"t":2008.125,"v":0.0000584},{"t":2008.25,"v":0.0000771},{"t":2008.25,"v":0.0000653},{"t":2008.25,"v":0.0000552},{"t":2008.375,"v":0.000069},{"t":2008.375,"v":0.0000617},{"t":2008.375,"v":0.0000552},{"t":2008.5,"v":0.0000653},{"t":2008.5,"v":0.0000584},{"t":2008.5,"v":0.0000522},{"t":2008.625,"v":0.0000617},{"t":2008.625,"v":0.0000552},{"t":2008.625,"v":0.0000522},{"t":2008.75,"v":0.0000584},{"t":2008.75,"v":0.0000552},{"t":2008.75,"v":0.0000494},{"t":2008.875,"v":0.0000584},{"t":2008.875,"v":0.0000522},{"t":2008.875,"v":0.0000494},{"t":2009,"v":0.0000617},{"t":2009,"v":0.0000552},{"t":2009,"v":0.0000494},{"t":2009.125,"v":0.0000617},{"t":2009.125,"v":0.0000552},{"t":2009.125,"v":0.0000494},{"t":2009.25,"v":0.0000653},{"t":2009.25,"v":0.0000584},{"t":2009.25,"v":0.0000522},{"t":2009.375,"v":0.0000617},{"t":2009.375,"v":0.0000584},{"t":2009.375,"v":0.0000522},{"t":2009.5,"v":0.0000617},{"t":2009.5,"v":0.0000584},{"t":2009.5,"v":0.0000522},{"t":2009.625,"v":0.0000653},{"t":2009.625,"v":0.0000584},{"t":2009.625,"v":0.0000522},{"t":2009.75,"v":0.0000653},{"t":2009.75,"v":0.0000617},{"t":2009.75,"v":0.0000552},{"t":2009.875,"v":0.000069},{"t":2009.875,"v":0.0000617},{"t":2009.875,"v":0.0000552},{"t":2010,"v":0.0000862},{"t":2010,"v":0.0000729},{"t":2010,"v":0.0000617},{"t":2010.125,"v":0.000108},{"t":2010.125,"v":0.0000963},{"t":2010.125,"v":0.0000862},{"t":2010.25,"v":0.000102},{"t":2010.25,"v":0.0000911},{"t":2010.25,"v":0.0000815},{"t":2010.375,"v":0.0000911},{"t":2010.375,"v":0.0000815},{"t":2010.375,"v":0.0000729},{"t":2010.5,"v":0.0000862},{"t":2010.5,"v":0.0000771},{"t":2010.5,"v":0.000069},{"t":2010.625,"v":0.000108},{"t":2010.625,"v":0.0000963},{"t":2010.625,"v":0.0000815},{"t":2010.75,"v":0.000114},{"t":2010.75,"v":0.0000963},{"t":2010.75,"v":0.0000862},{"t":2010.875,"v":0.000108},{"t":2010.875,"v":0.0000963},{"t":2010.875,"v":0.0000862},{"t":2011,"v":0.000102},{"t":2011,"v":0.0000911},{"t":2011,"v":0.0000815},{"t":2011.125,"v":0.000178},{"t":2011.125,"v":0.000159},{"t":2011.125,"v":0.000135},{"t":2011.25,"v":0.00021},{"t":2011.25,"v":0.000188},{"t":2011.25,"v":0.000159},{"t":2011.375,"v":0.000178},{"t":2011.375,"v":0.000159},{"t":2011.375,"v":0.00015},{"t":2011.5,"v":0.000168},{"t":2011.5,"v":0.00015},{"t":2011.5,"v":0.000135},{"t":2011.625,"v":0.00015},{"t":2011.625,"v":0.000142},{"t":2011.625,"v":0.000135},{"t":2011.75,"v":0.00031},{"t":2011.75,"v":0.000262},{"t":2011.75,"v":0.000235},{"t":2011.875,"v":0.00031},{"t":2011.875,"v":0.000262},{"t":2011.875,"v":0.000235},{"t":2012,"v":0.000293},{"t":2012,"v":0.000248},{"t":2012,"v":0.000222},{"t":2012.125,"v":0.000235},{"t":2012.125,"v":0.000222},{"t":2012.125,"v":0.000199},{"t":2012.25,"v":0.00021},{"t":2012.25,"v":0.000199},{"t":2012.25,"v":0.000178},{"t":2012.375,"v":0.000262},{"t":2012.375,"v":0.000222},{"t":2012.375,"v":0.000199},{"t":2012.375,"v":0.000168},{"t":2012.5,"v":0.000293},{"t":2012.5,"v":0.000248},{"t":2012.5,"v":0.000199},{"t":2012.5,"v":0.000159},{"t":2012.625,"v":0.000277},{"t":2012.625,"v":0.000235},{"t":2012.625,"v":0.000199},{"t":2012.625,"v":0.000168},{"t":2012.75,"v":0.000277},{"t":2012.75,"v":0.000235},{"t":2012.75,"v":0.00021},{"t":2012.75,"v":0.000178},{"t":2012.875,"v":0.000262},{"t":2012.875,"v":0.000235},{"t":2012.875,"v":0.00021},{"t":2012.875,"v":0.000178},{"t":2013,"v":0.000262},{"t":2013,"v":0.000222},{"t":2013,"v":0.000199},{"t":2013,"v":0.000168},{"t":2013.125,"v":0.000262},{"t":2013.125,"v":0.000235},{"t":2013.125,"v":0.000199},{"t":2013.125,"v":0.000178},{"t":2013.25,"v":0.000277},{"t":2013.25,"v":0.000248},{"t":2013.25,"v":0.00021},{"t":2013.25,"v":0.000188},{"t":2013.375,"v":0.000293},{"t":2013.375,"v":0.000262},{"t":2013.375,"v":0.000222},{"t":2013.375,"v":0.000188},{"t":2013.5,"v":0.000262},{"t":2013.5,"v":0.000235},{"t":2013.5,"v":0.00021},{"t":2013.5,"v":0.000188},{"t":2013.625,"v":0.000262},{"t":2013.625,"v":0.000222},{"t":2013.625,"v":0.000188},{"t":2013.75,"v":0.000293},{"t":2013.75,"v":0.000262},{"t":2013.75,"v":0.000222},{"t":2013.875,"v":0.000328},{"t":2013.875,"v":0.000293},{"t":2013.875,"v":0.000262},{"t":2014,"v":0.000346},{"t":2014,"v":0.00031},{"t":2014,"v":0.000277},{"t":2014.125,"v":0.000366},{"t":2014.125,"v":0.000328},{"t":2014.125,"v":0.000277},{"t":2014.125,"v":0.000248},{"t":2014.25,"v":0.000366},{"t":2014.25,"v":0.000328},{"t":2014.25,"v":0.000277},{"t":2014.25,"v":0.000235},{"t":2014.375,"v":0.00031},{"t":2014.375,"v":0.000277},{"t":2014.375,"v":0.000235},{"t":2014.375,"v":0.000199},{"t":2014.5,"v":0.000262},{"t":2014.5,"v":0.000222},{"t":2014.5,"v":0.000199},{"t":2014.5,"v":0.000168},{"t":2014.625,"v":0.000293},{"t":2014.625,"v":0.000262},{"t":2014.625,"v":0.000235},{"t":2014.625,"v":0.00021},{"t":2014.75,"v":0.000366},{"t":2014.75,"v":0.000328},{"t":2014.75,"v":0.000277},{"t":2014.875,"v":0.000366},{"t":2014.875,"v":0.000328},{"t":2014.875,"v":0.000277},{"t":2015,"v":0.000346},{"t":2015,"v":0.00031},{"t":2015,"v":0.000262},{"t":2015.125,"v":0.00031},{"t":2015.125,"v":0.000277},{"t":2015.125,"v":0.000235},{"t":2015.25,"v":0.000262},{"t":2015.25,"v":0.000235},{"t":2015.25,"v":0.00021},{"t":2015.375,"v":0.000248},{"t":2015.375,"v":0.000222},{"t":2015.375,"v":0.000199},{"t":2015.5,"v":0.000222},{"t":2015.5,"v":0.000199},{"t":2015.5,"v":0.000178},{"t":2015.625,"v":0.00021},{"t":2015.625,"v":0.000188},{"t":2015.625,"v":0.000159},{"t":2015.75,"v":0.000222},{"t":2015.75,"v":0.000188},{"t":2015.75,"v":0.000159},{"t":2015.875,"v":0.000235},{"t":2015.875,"v":0.000199},{"t":2015.875,"v":0.000168},{"t":2016,"v":0.000235},{"t":2016,"v":0.00021},{"t":2016,"v":0.000178},{"t":2016.125,"v":0.000222},{"t":2016.125,"v":0.000188},{"t":2016.125,"v":0.000168},{"t":2016.125,"v":0.000142},{"t":2016.25,"v":0.000188},{"t":2016.25,"v":0.000168},{"t":2016.25,"v":0.00015},{"t":2016.25,"v":0.000135},{"t":2016.375,"v":0.000178},{"t":2016.375,"v":0.00015},{"t":2016.375,"v":0.000135},{"t":2016.5,"v":0.000159},{"t":2016.5,"v":0.000142},{"t":2016.5,"v":0.00012},{"t":2016.625,"v":0.000142},{"t":2016.625,"v":0.000127},{"t":2016.625,"v":0.000108},{"t":2016.75,"v":0.000127},{"t":2016.75,"v":0.000108},{"t":2016.75,"v":0.0000963},{"t":2016.875,"v":0.000108},{"t":2016.875,"v":0.0000963},{"t":2016.875,"v":0.0000815},{"t":2017,"v":0.000102},{"t":2017,"v":0.0000862},{"t":2017,"v":0.0000771},{"t":2017.125,"v":0.0000963},{"t":2017.125,"v":0.0000815},{"t":2017.125,"v":0.0000729},{"t":2017.25,"v":0.0000911},{"t":2017.25,"v":0.0000771},{"t":2017.25,"v":0.000069},{"t":2017.375,"v":0.0000963},{"t":2017.375,"v":0.0000815},{"t":2017.375,"v":0.0000729},{"t":2017.5,"v":0.000102},{"t":2017.5,"v":0.0000862},{"t":2017.5,"v":0.0000771},{"t":2017.625,"v":0.00012},{"t":2017.625,"v":0.000102},{"t":2017.625,"v":0.0000862},{"t":2017.75,"v":0.000102},{"t":2017.75,"v":0.0000862},{"t":2017.75,"v":0.0000729},{"t":2017.875,"v":0.0000862},{"t":2017.875,"v":0.0000729},{"t":2017.875,"v":0.0000584},{"t":2018,"v":0.0000771},{"t":2018,"v":0.0000653},{"t":2018,"v":0.0000552},{"t":2018.125,"v":0.0000729},{"t":2018.125,"v":0.0000617},{"t":2018.125,"v":0.0000522},{"t":2018.25,"v":0.000069},{"t":2018.25,"v":0.0000617},{"t":2018.25,"v":0.0000522},{"t":2018.375,"v":0.0000729},{"t":2018.375,"v":0.0000617},{"t":2018.375,"v":0.0000522},{"t":2018.5,"v":0.0000771},{"t":2018.5,"v":0.0000653},{"t":2018.5,"v":0.0000552},{"t":2018.625,"v":0.000069},{"t":2018.625,"v":0.0000617},{"t":2018.625,"v":0.0000522},{"t":2018.75,"v":0.0000617},{"t":2018.75,"v":0.0000552},{"t":2018.75,"v":0.0000494},{"t":2018.875,"v":0.0000617},{"t":2018.875,"v":0.0000552},{"t":2018.875,"v":0.0000494},{"t":2019,"v":0.0000584},{"t":2019,"v":0.0000522},{"t":2019,"v":0.0000494},{"t":2019.125,"v":0.000069},{"t":2019.125,"v":0.0000617},{"t":2019.125,"v":0.0000552},{"t":2019.25,"v":0.0000771},{"t":2019.25,"v":0.0000653},{"t":2019.25,"v":0.0000552},{"t":2019.375,"v":0.000069},{"t":2019.375,"v":0.0000617},{"t":2019.375,"v":0.0000522},{"t":2019.5,"v":0.0000617},{"t":2019.5,"v":0.0000552},{"t":2019.5,"v":0.0000494},{"t":2019.625,"v":0.0000617},{"t":2019.625,"v":0.0000552},{"t":2019.625,"v":0.0000494},{"t":2019.75,"v":0.0000617},{"t":2019.75,"v":0.0000584},{"t":2019.75,"v":0.0000494},{"t":2019.875,"v":0.0000584},{"t":2019.875,"v":0.0000522},{"t":2019.875,"v":0.0000494},{"t":2020,"v":0.0000584},{"t":2020,"v":0.0000522},{"t":2020,"v":0.0000494},{"t":2020.125,"v":0.0000552},{"t":2020.125,"v":0.0000522},{"t":2020.125,"v":0.0000494},{"t":2020.25,"v":0.0000584},{"t":2020.25,"v":0.0000522},{"t":2003.82,"v":0.00065},{"t":2017.24,"v":0.000192},{"t":2020.08,"v":0.0000771},{"t":2018.6,"v":0.0000374},{"t":2007.02,"v":0.000156},{"t":2009.3,"v":0.0000418},{"t":2018.2,"v":0.000043}],
"labs":[{"lab":"Ly−α","v":0.00646},{"lab":"He I (304)","v":0.00419},{"lab":"C IV (1548)","v":0.00122},{"lab":"Fe XVI (335)","v":0.000174},{"lab":"0.1−7 nm","v":0.000116}]
},
"layer":[
{"data":{"name":"ly"},"mark":{"type":"point","shape":"M-1,0H1M0,-1V1","filled":false,"color":"#5a0096","strokeWidth":2.6,"size":110,"opacity":1},
"encoding":{
"x":{"field":"t","type":"quantitative","scale":{"domain":[2002,2020.5],"nice":false,"zero":false},
"axis":{"orient":"bottom","values":[2003,2004,2005,2006,2007,2008,2009,2010,2011,2012,2013,2014,2015,2016,2017,2018,2019,2020],"labelExpr":"datum.value % 5 === 0 ? format(datum.value,'d') : ''","tickSize":{"condition":{"test":"datum.value % 5 === 0","value":-10},"value":-5},"labelPadding":17,"title":"Year","titleFontSize":14,"titleX":428.5,"titleY":32,"titleBaseline":"middle"}},
"y":{"field":"v","type":"quantitative","scale":{"type":"log","domain":[0.00003,0.0103],"nice":false},
"axis":{"orient":"left","values":[0.00004,0.00005,0.00006,0.00007,0.00008,0.00009,0.0001,0.0002,0.0003,0.0004,0.0005,0.0006,0.0007,0.0008,0.0009,0.001,0.002,0.003,0.004,0.005,0.006,0.007,0.008,0.009,0.01],"labelExpr":"abs(log(datum.value)/LN10 - round(log(datum.value)/LN10)) < 0.01 ? format(datum.value,'.4f') : ''","tickSize":{"condition":{"test":"abs(log(datum.value)/LN10 - round(log(datum.value)/LN10)) < 0.01","value":-17},"value":-9},"labelPadding":23,"title":"Irradiance (W/m²/nm)","titleFontSize":16,"titleX":-69,"titleY":262.5,"titleAngle":-90,"titleAlign":"center","titleBaseline":"middle"}}
}},
{"data":{"name":"he"},"mark":{"type":"point","shape":"M-1,0H1M0,-1V1","filled":false,"color":"#000000","strokeWidth":2.6,"size":110,"opacity":1},
"encoding":{"x":{"field":"t","type":"quantitative","axis":null},"y":{"field":"v","type":"quantitative","axis":null}}},
{"data":{"name":"c4"},"mark":{"type":"point","shape":"M-1,0H1M0,-1V1","filled":false,"color":"#ff0000","strokeWidth":2.6,"size":110,"opacity":1},
"encoding":{"x":{"field":"t","type":"quantitative","axis":null},"y":{"field":"v","type":"quantitative","axis":null}}},
{"data":{"name":"fe"},"mark":{"type":"point","shape":"M-1,0H1M0,-1V1","filled":false,"color":"#000000","strokeWidth":3.4,"size":200,"opacity":1},
"encoding":{"x":{"field":"t","type":"quantitative","axis":null},"y":{"field":"v","type":"quantitative","axis":null}}},
{"data":{"name":"xr"},"mark":{"type":"point","shape":"M-1,0H1M0,-1V1","filled":false,"color":"#2200ff","strokeWidth":3.4,"size":200,"opacity":1},
"encoding":{"x":{"field":"t","type":"quantitative","axis":null},"y":{"field":"v","type":"quantitative","axis":null}}},
{"data":{"name":"labs"},"mark":{"type":"text","align":"left","baseline":"middle","dx":6,"font":"DejaVu Serif","fontSize":13},
"encoding":{
"x":{"datum":2020.5,"type":"quantitative","axis":{"orient":"top","values":[2003,2004,2005,2006,2007,2008,2009,2010,2011,2012,2013,2014,2015,2016,2017,2018,2019,2020],"labels":false,"title":null,"tickSize":{"condition":{"test":"datum.value % 5 === 0","value":-10},"value":-5}}},
"y":{"field":"v","type":"quantitative","axis":{"orient":"right","values":[0.00004,0.00005,0.00006,0.00007,0.00008,0.00009,0.0001,0.0002,0.0003,0.0004,0.0005,0.0006,0.0007,0.0008,0.0009,0.001,0.002,0.003,0.004,0.005,0.006,0.007,0.008,0.009,0.01],"labels":false,"title":null,"tickSize":{"condition":{"test":"abs(log(datum.value)/LN10 - round(log(datum.value)/LN10)) < 0.01","value":-15},"value":-8}}},
"text":{"field":"lab"},
"color":{"field":"lab","type":"nominal","scale":{"domain":["Ly−α","He I (304)","C IV (1548)","Fe XVI (335)","0.1−7 nm"],"range":["#5a0096","#000000","#ff0000","#000000","#2200ff"]},"legend":null}}}
],
"resolve":{"axis":{"x":"independent","y":"independent"}}
}
